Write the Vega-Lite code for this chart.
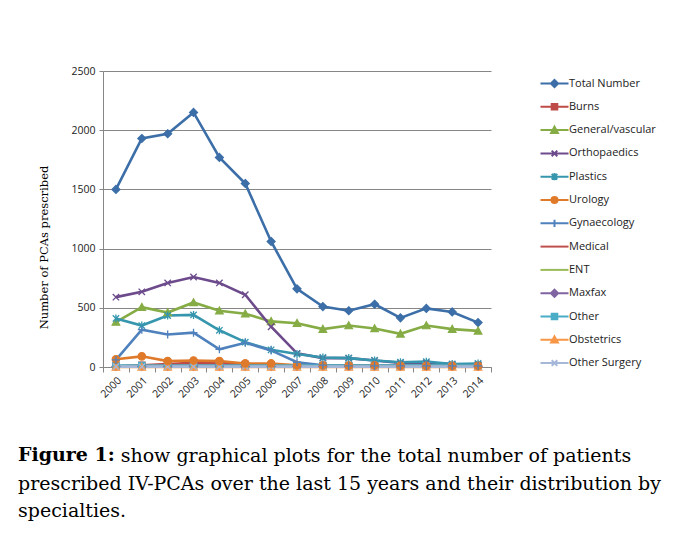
{
  "$schema": "https://vega.github.io/schema/vega-lite/v6.json",
  "autosize": {"type": "none"},
  "width": 388,
  "height": 296,
  "padding": {"left": 103, "top": 71, "right": 185, "bottom": 192},
  "background": "white",
  "config": {
    "view": {"stroke": null},
    "axis": {"labelFont": "Open Sans", "labelFontSize": 10.5, "labelColor": "#222", "domainColor": "#868686", "tickColor": "#868686", "gridColor": "#868686"}
  },
  "title": {
    "text": "Figure 1:",
    "subtitle": ["\u200b\u00a0\u00a0\u00a0\u00a0\u00a0\u00a0\u00a0\u00a0\u00a0\u00a0\u00a0\u00a0\u00a0\u00a0\u00a0\u00a0 show graphical plots for the total number of patients", "prescribed IV-PCAs over the last 15 years and their distribution by", "specialties."],
    "orient": "bottom",
    "anchor": "start",
    "frame": "bounds",
    "font": "DejaVu Serif",
    "fontSize": 19,
    "fontWeight": "bold",
    "color": "#000",
    "subtitleFont": "DejaVu Serif",
    "subtitleFontSize": 19,
    "subtitleColor": "#000",
    "subtitleLineHeight": 27.5,
    "lineHeight": 27.5,
    "subtitlePadding": -18,
    "offset": 47,
    "dx": -20
  },
  "data": {"values": [
    {"year": "2000", "series": "Total Number", "n": 1500}, {"year": "2001", "series": "Total Number", "n": 1930}, {"year": "2002", "series": "Total Number", "n": 1970}, {"year": "2003", "series": "Total Number", "n": 2150}, {"year": "2004", "series": "Total Number", "n": 1770}, {"year": "2005", "series": "Total Number", "n": 1550}, {"year": "2006", "series": "Total Number", "n": 1060}, {"year": "2007", "series": "Total Number", "n": 660}, {"year": "2008", "series": "Total Number", "n": 510}, {"year": "2009", "series": "Total Number", "n": 475}, {"year": "2010", "series": "Total Number", "n": 530}, {"year": "2011", "series": "Total Number", "n": 415}, {"year": "2012", "series": "Total Number", "n": 495}, {"year": "2013", "series": "Total Number", "n": 465}, {"year": "2014", "series": "Total Number", "n": 375},
    {"year": "2000", "series": "Burns", "n": 5}, {"year": "2001", "series": "Burns", "n": 15}, {"year": "2002", "series": "Burns", "n": 25}, {"year": "2003", "series": "Burns", "n": 35}, {"year": "2004", "series": "Burns", "n": 35}, {"year": "2005", "series": "Burns", "n": 20}, {"year": "2006", "series": "Burns", "n": 15}, {"year": "2007", "series": "Burns", "n": 10}, {"year": "2008", "series": "Burns", "n": 8}, {"year": "2009", "series": "Burns", "n": 8}, {"year": "2010", "series": "Burns", "n": 8}, {"year": "2011", "series": "Burns", "n": 8}, {"year": "2012", "series": "Burns", "n": 8}, {"year": "2013", "series": "Burns", "n": 8}, {"year": "2014", "series": "Burns", "n": 8},
    {"year": "2000", "series": "General/vascular", "n": 380}, {"year": "2001", "series": "General/vascular", "n": 505}, {"year": "2002", "series": "General/vascular", "n": 460}, {"year": "2003", "series": "General/vascular", "n": 545}, {"year": "2004", "series": "General/vascular", "n": 475}, {"year": "2005", "series": "General/vascular", "n": 450}, {"year": "2006", "series": "General/vascular", "n": 385}, {"year": "2007", "series": "General/vascular", "n": 370}, {"year": "2008", "series": "General/vascular", "n": 320}, {"year": "2009", "series": "General/vascular", "n": 350}, {"year": "2010", "series": "General/vascular", "n": 325}, {"year": "2011", "series": "General/vascular", "n": 280}, {"year": "2012", "series": "General/vascular", "n": 350}, {"year": "2013", "series": "General/vascular", "n": 320}, {"year": "2014", "series": "General/vascular", "n": 305},
    {"year": "2000", "series": "Orthopaedics", "n": 590}, {"year": "2001", "series": "Orthopaedics", "n": 635}, {"year": "2002", "series": "Orthopaedics", "n": 710}, {"year": "2003", "series": "Orthopaedics", "n": 760}, {"year": "2004", "series": "Orthopaedics", "n": 710}, {"year": "2005", "series": "Orthopaedics", "n": 610}, {"year": "2006", "series": "Orthopaedics", "n": 340}, {"year": "2007", "series": "Orthopaedics", "n": 115}, {"year": "2008", "series": "Orthopaedics", "n": 75}, {"year": "2009", "series": "Orthopaedics", "n": 75}, {"year": "2010", "series": "Orthopaedics", "n": 55}, {"year": "2011", "series": "Orthopaedics", "n": 35}, {"year": "2012", "series": "Orthopaedics", "n": 35}, {"year": "2013", "series": "Orthopaedics", "n": 25}, {"year": "2014", "series": "Orthopaedics", "n": 20},
    {"year": "2000", "series": "Plastics", "n": 410}, {"year": "2001", "series": "Plastics", "n": 350}, {"year": "2002", "series": "Plastics", "n": 435}, {"year": "2003", "series": "Plastics", "n": 440}, {"year": "2004", "series": "Plastics", "n": 310}, {"year": "2005", "series": "Plastics", "n": 210}, {"year": "2006", "series": "Plastics", "n": 145}, {"year": "2007", "series": "Plastics", "n": 110}, {"year": "2008", "series": "Plastics", "n": 80}, {"year": "2009", "series": "Plastics", "n": 75}, {"year": "2010", "series": "Plastics", "n": 55}, {"year": "2011", "series": "Plastics", "n": 40}, {"year": "2012", "series": "Plastics", "n": 45}, {"year": "2013", "series": "Plastics", "n": 25}, {"year": "2014", "series": "Plastics", "n": 30},
    {"year": "2000", "series": "Urology", "n": 65}, {"year": "2001", "series": "Urology", "n": 90}, {"year": "2002", "series": "Urology", "n": 50}, {"year": "2003", "series": "Urology", "n": 55}, {"year": "2004", "series": "Urology", "n": 50}, {"year": "2005", "series": "Urology", "n": 30}, {"year": "2006", "series": "Urology", "n": 30}, {"year": "2007", "series": "Urology", "n": 15}, {"year": "2008", "series": "Urology", "n": 15}, {"year": "2009", "series": "Urology", "n": 12}, {"year": "2010", "series": "Urology", "n": 15}, {"year": "2011", "series": "Urology", "n": 10}, {"year": "2012", "series": "Urology", "n": 10}, {"year": "2013", "series": "Urology", "n": 10}, {"year": "2014", "series": "Urology", "n": 10},
    {"year": "2000", "series": "Gynaecology", "n": 60}, {"year": "2001", "series": "Gynaecology", "n": 315}, {"year": "2002", "series": "Gynaecology", "n": 275}, {"year": "2003", "series": "Gynaecology", "n": 290}, {"year": "2004", "series": "Gynaecology", "n": 150}, {"year": "2005", "series": "Gynaecology", "n": 205}, {"year": "2006", "series": "Gynaecology", "n": 140}, {"year": "2007", "series": "Gynaecology", "n": 40}, {"year": "2008", "series": "Gynaecology", "n": 15}, {"year": "2009", "series": "Gynaecology", "n": 10}, {"year": "2010", "series": "Gynaecology", "n": 10}, {"year": "2011", "series": "Gynaecology", "n": 10}, {"year": "2012", "series": "Gynaecology", "n": 10}, {"year": "2013", "series": "Gynaecology", "n": 10}, {"year": "2014", "series": "Gynaecology", "n": 10},
    {"year": "2000", "series": "Medical", "n": 5}, {"year": "2001", "series": "Medical", "n": 8}, {"year": "2002", "series": "Medical", "n": 10}, {"year": "2003", "series": "Medical", "n": 12}, {"year": "2004", "series": "Medical", "n": 12}, {"year": "2005", "series": "Medical", "n": 10}, {"year": "2006", "series": "Medical", "n": 8}, {"year": "2007", "series": "Medical", "n": 5}, {"year": "2008", "series": "Medical", "n": 5}, {"year": "2009", "series": "Medical", "n": 5}, {"year": "2010", "series": "Medical", "n": 5}, {"year": "2011", "series": "Medical", "n": 5}, {"year": "2012", "series": "Medical", "n": 5}, {"year": "2013", "series": "Medical", "n": 5}, {"year": "2014", "series": "Medical", "n": 5},
    {"year": "2000", "series": "ENT", "n": 3}, {"year": "2001", "series": "ENT", "n": 3}, {"year": "2002", "series": "ENT", "n": 3}, {"year": "2003", "series": "ENT", "n": 3}, {"year": "2004", "series": "ENT", "n": 3}, {"year": "2005", "series": "ENT", "n": 3}, {"year": "2006", "series": "ENT", "n": 3}, {"year": "2007", "series": "ENT", "n": 3}, {"year": "2008", "series": "ENT", "n": 3}, {"year": "2009", "series": "ENT", "n": 3}, {"year": "2010", "series": "ENT", "n": 3}, {"year": "2011", "series": "ENT", "n": 3}, {"year": "2012", "series": "ENT", "n": 3}, {"year": "2013", "series": "ENT", "n": 3}, {"year": "2014", "series": "ENT", "n": 3},
    {"year": "2000", "series": "Maxfax", "n": 5}, {"year": "2001", "series": "Maxfax", "n": 5}, {"year": "2002", "series": "Maxfax", "n": 5}, {"year": "2003", "series": "Maxfax", "n": 5}, {"year": "2004", "series": "Maxfax", "n": 5}, {"year": "2005", "series": "Maxfax", "n": 5}, {"year": "2006", "series": "Maxfax", "n": 5}, {"year": "2007", "series": "Maxfax", "n": 5}, {"year": "2008", "series": "Maxfax", "n": 5}, {"year": "2009", "series": "Maxfax", "n": 5}, {"year": "2010", "series": "Maxfax", "n": 5}, {"year": "2011", "series": "Maxfax", "n": 5}, {"year": "2012", "series": "Maxfax", "n": 5}, {"year": "2013", "series": "Maxfax", "n": 5}, {"year": "2014", "series": "Maxfax", "n": 5},
    {"year": "2000", "series": "Other", "n": 12}, {"year": "2001", "series": "Other", "n": 12}, {"year": "2002", "series": "Other", "n": 12}, {"year": "2003", "series": "Other", "n": 12}, {"year": "2004", "series": "Other", "n": 12}, {"year": "2005", "series": "Other", "n": 12}, {"year": "2006", "series": "Other", "n": 12}, {"year": "2007", "series": "Other", "n": 12}, {"year": "2008", "series": "Other", "n": 12}, {"year": "2009", "series": "Other", "n": 12}, {"year": "2010", "series": "Other", "n": 12}, {"year": "2011", "series": "Other", "n": 12}, {"year": "2012", "series": "Other", "n": 12}, {"year": "2013", "series": "Other", "n": 12}, {"year": "2014", "series": "Other", "n": 12},
    {"year": "2000", "series": "Obstetrics", "n": 0}, {"year": "2001", "series": "Obstetrics", "n": 0}, {"year": "2002", "series": "Obstetrics", "n": 0}, {"year": "2003", "series": "Obstetrics", "n": 0}, {"year": "2004", "series": "Obstetrics", "n": 0}, {"year": "2005", "series": "Obstetrics", "n": 0}, {"year": "2006", "series": "Obstetrics", "n": 0}, {"year": "2007", "series": "Obstetrics", "n": 0}, {"year": "2008", "series": "Obstetrics", "n": 0}, {"year": "2009", "series": "Obstetrics", "n": 0}, {"year": "2010", "series": "Obstetrics", "n": 0}, {"year": "2011", "series": "Obstetrics", "n": 0}, {"year": "2012", "series": "Obstetrics", "n": 0}, {"year": "2013", "series": "Obstetrics", "n": 0}, {"year": "2014", "series": "Obstetrics", "n": 0},
    {"year": "2000", "series": "Other Surgery", "n": 3}, {"year": "2001", "series": "Other Surgery", "n": 3}, {"year": "2002", "series": "Other Surgery", "n": 3}, {"year": "2003", "series": "Other Surgery", "n": 3}, {"year": "2004", "series": "Other Surgery", "n": 3}, {"year": "2005", "series": "Other Surgery", "n": 3}, {"year": "2006", "series": "Other Surgery", "n": 3}, {"year": "2007", "series": "Other Surgery", "n": 3}, {"year": "2008", "series": "Other Surgery", "n": 3}, {"year": "2009", "series": "Other Surgery", "n": 3}, {"year": "2010", "series": "Other Surgery", "n": 3}, {"year": "2011", "series": "Other Surgery", "n": 3}, {"year": "2012", "series": "Other Surgery", "n": 3}, {"year": "2013", "series": "Other Surgery", "n": 3}, {"year": "2014", "series": "Other Surgery", "n": 3}
  ]},
  "encoding": {
    "x": {"field": "year", "type": "ordinal", "scale": {"type": "band", "paddingInner": 0, "paddingOuter": 0},
      "axis": {"title": null, "labelAngle": -45, "tickBand": "extent", "tickSize": 5, "labelPadding": 3, "grid": false}},
    "y": {"field": "n", "type": "quantitative", "scale": {"domain": [0, 2500], "nice": false},
      "axis": {"title": "Number of PCAs prescribed", "values": [0, 500, 1000, 1500, 2000, 2500], "format": "d", "grid": true, "tickSize": 4, "labelPadding": 4,
        "titleFont": "DejaVu Serif", "titleFontSize": 11.5, "titleFontWeight": "normal", "titleColor": "#000", "titleX": -54, "titleY": 176, "titleAngle": -90, "titleBaseline": "bottom"}}
  },
  "layer": [
    {
      "mark": {"type": "line", "strokeWidth": 2.6},
      "encoding": {
        "color": {"field": "series", "type": "nominal", "sort": null,
          "scale": {"domain": ["Total Number", "Burns", "General/vascular", "Orthopaedics", "Plastics", "Urology", "Gynaecology", "Medical", "ENT", "Maxfax", "Other", "Obstetrics", "Other Surgery"],
            "range": ["#3C6EA8", "#BE4B48", "#86AC45", "#6C4A8B", "#3596AE", "#E07A2B", "#4F81BD", "#C0504D", "#9BBB59", "#8064A2", "#4BACC6", "#F79646", "#A5B8D9"]},
          "legend": {
            "title": null, "orient": "none", "legendX": 446, "legendY": 7,
            "labelFont": "Open Sans", "labelFontSize": 11, "labelColor": "#222",
            "symbolSize": 64, "symbolStrokeWidth": 2, "labelOffset": 9, "rowPadding": 6.3, "padding": 0
          }}
      }
    },
    {
      "transform": [{"filter": {"field": "series", "oneOf": ["Total Number", "Maxfax"]}}],
      "mark": {"type": "point", "shape": "M0,-1L1,0L0,1L-1,0Z", "filled": true, "size": 64, "strokeWidth": 1.2, "opacity": 1},
      "encoding": {
        "fill": {"field": "series", "type": "nominal", "sort": null, "legend": null, "scale": {"domain": ["Total Number", "Burns", "General/vascular", "Orthopaedics", "Plastics", "Urology", "Gynaecology", "Medical", "ENT", "Maxfax", "Other", "Obstetrics", "Other Surgery"], "range": ["#3C6EA8", "#BE4B48", "#86AC45", "#6C4A8B", "#3596AE", "#E07A2B", "#4F81BD", "#C0504D", "#9BBB59", "#8064A2", "#4BACC6", "#F79646", "#A5B8D9"]}},
        "stroke": {"field": "series", "type": "nominal", "sort": null, "legend": null, "scale": {"domain": ["Total Number", "Burns", "General/vascular", "Orthopaedics", "Plastics", "Urology", "Gynaecology", "Medical", "ENT", "Maxfax", "Other", "Obstetrics", "Other Surgery"], "range": ["#3C6EA8", "#BE4B48", "#86AC45", "#6C4A8B", "#3596AE", "#E07A2B", "#4F81BD", "#C0504D", "#9BBB59", "#8064A2", "#4BACC6", "#F79646", "#A5B8D9"]}}
      }
    },
    {
      "transform": [{"filter": {"field": "series", "oneOf": ["Burns", "Other"]}}],
      "mark": {"type": "point", "shape": "M-0.8,-0.8H0.8V0.8H-0.8Z", "filled": true, "size": 64, "strokeWidth": 1.2, "opacity": 1},
      "encoding": {
        "fill": {"field": "series", "type": "nominal", "sort": null, "legend": null, "scale": {"domain": ["Total Number", "Burns", "General/vascular", "Orthopaedics", "Plastics", "Urology", "Gynaecology", "Medical", "ENT", "Maxfax", "Other", "Obstetrics", "Other Surgery"], "range": ["#3C6EA8", "#BE4B48", "#86AC45", "#6C4A8B", "#3596AE", "#E07A2B", "#4F81BD", "#C0504D", "#9BBB59", "#8064A2", "#4BACC6", "#F79646", "#A5B8D9"]}},
        "stroke": {"field": "series", "type": "nominal", "sort": null, "legend": null, "scale": {"domain": ["Total Number", "Burns", "General/vascular", "Orthopaedics", "Plastics", "Urology", "Gynaecology", "Medical", "ENT", "Maxfax", "Other", "Obstetrics", "Other Surgery"], "range": ["#3C6EA8", "#BE4B48", "#86AC45", "#6C4A8B", "#3596AE", "#E07A2B", "#4F81BD", "#C0504D", "#9BBB59", "#8064A2", "#4BACC6", "#F79646", "#A5B8D9"]}}
      }
    },
    {
      "transform": [{"filter": {"field": "series", "oneOf": ["General/vascular", "Obstetrics"]}}],
      "mark": {"type": "point", "shape": "M0,-0.95L0.95,0.8H-0.95Z", "filled": true, "size": 64, "strokeWidth": 1.2, "opacity": 1},
      "encoding": {
        "fill": {"field": "series", "type": "nominal", "sort": null, "legend": null, "scale": {"domain": ["Total Number", "Burns", "General/vascular", "Orthopaedics", "Plastics", "Urology", "Gynaecology", "Medical", "ENT", "Maxfax", "Other", "Obstetrics", "Other Surgery"], "range": ["#3C6EA8", "#BE4B48", "#86AC45", "#6C4A8B", "#3596AE", "#E07A2B", "#4F81BD", "#C0504D", "#9BBB59", "#8064A2", "#4BACC6", "#F79646", "#A5B8D9"]}},
        "stroke": {"field": "series", "type": "nominal", "sort": null, "legend": null, "scale": {"domain": ["Total Number", "Burns", "General/vascular", "Orthopaedics", "Plastics", "Urology", "Gynaecology", "Medical", "ENT", "Maxfax", "Other", "Obstetrics", "Other Surgery"], "range": ["#3C6EA8", "#BE4B48", "#86AC45", "#6C4A8B", "#3596AE", "#E07A2B", "#4F81BD", "#C0504D", "#9BBB59", "#8064A2", "#4BACC6", "#F79646", "#A5B8D9"]}}
      }
    },
    {
      "transform": [{"filter": {"field": "series", "oneOf": ["Orthopaedics", "Other Surgery"]}}],
      "mark": {"type": "point", "shape": "M-0.8,-0.8L0.8,0.8M0.8,-0.8L-0.8,0.8", "filled": true, "size": 64, "strokeWidth": 1.3, "opacity": 1},
      "encoding": {
        "fill": {"field": "series", "type": "nominal", "sort": null, "legend": null, "scale": {"domain": ["Total Number", "Burns", "General/vascular", "Orthopaedics", "Plastics", "Urology", "Gynaecology", "Medical", "ENT", "Maxfax", "Other", "Obstetrics", "Other Surgery"], "range": ["#3C6EA8", "#BE4B48", "#86AC45", "#6C4A8B", "#3596AE", "#E07A2B", "#4F81BD", "#C0504D", "#9BBB59", "#8064A2", "#4BACC6", "#F79646", "#A5B8D9"]}},
        "stroke": {"field": "series", "type": "nominal", "sort": null, "legend": null, "scale": {"domain": ["Total Number", "Burns", "General/vascular", "Orthopaedics", "Plastics", "Urology", "Gynaecology", "Medical", "ENT", "Maxfax", "Other", "Obstetrics", "Other Surgery"], "range": ["#3C6EA8", "#BE4B48", "#86AC45", "#6C4A8B", "#3596AE", "#E07A2B", "#4F81BD", "#C0504D", "#9BBB59", "#8064A2", "#4BACC6", "#F79646", "#A5B8D9"]}}
      }
    },
    {
      "transform": [{"filter": {"field": "series", "equal": "Plastics"}}],
      "mark": {"type": "point", "shape": "M-0.8,-0.8L0.8,0.8M0.8,-0.8L-0.8,0.8M0,-1V1", "filled": true, "size": 64, "strokeWidth": 1.3, "opacity": 1},
      "encoding": {
        "fill": {"field": "series", "type": "nominal", "sort": null, "legend": null, "scale": {"domain": ["Total Number", "Burns", "General/vascular", "Orthopaedics", "Plastics", "Urology", "Gynaecology", "Medical", "ENT", "Maxfax", "Other", "Obstetrics", "Other Surgery"], "range": ["#3C6EA8", "#BE4B48", "#86AC45", "#6C4A8B", "#3596AE", "#E07A2B", "#4F81BD", "#C0504D", "#9BBB59", "#8064A2", "#4BACC6", "#F79646", "#A5B8D9"]}},
        "stroke": {"field": "series", "type": "nominal", "sort": null, "legend": null, "scale": {"domain": ["Total Number", "Burns", "General/vascular", "Orthopaedics", "Plastics", "Urology", "Gynaecology", "Medical", "ENT", "Maxfax", "Other", "Obstetrics", "Other Surgery"], "range": ["#3C6EA8", "#BE4B48", "#86AC45", "#6C4A8B", "#3596AE", "#E07A2B", "#4F81BD", "#C0504D", "#9BBB59", "#8064A2", "#4BACC6", "#F79646", "#A5B8D9"]}}
      }
    },
    {
      "transform": [{"filter": {"field": "series", "equal": "Urology"}}],
      "mark": {"type": "point", "shape": "circle", "filled": true, "size": 56, "strokeWidth": 1.2, "opacity": 1},
      "encoding": {
        "fill": {"field": "series", "type": "nominal", "sort": null, "legend": null, "scale": {"domain": ["Total Number", "Burns", "General/vascular", "Orthopaedics", "Plastics", "Urology", "Gynaecology", "Medical", "ENT", "Maxfax", "Other", "Obstetrics", "Other Surgery"], "range": ["#3C6EA8", "#BE4B48", "#86AC45", "#6C4A8B", "#3596AE", "#E07A2B", "#4F81BD", "#C0504D", "#9BBB59", "#8064A2", "#4BACC6", "#F79646", "#A5B8D9"]}},
        "stroke": {"field": "series", "type": "nominal", "sort": null, "legend": null, "scale": {"domain": ["Total Number", "Burns", "General/vascular", "Orthopaedics", "Plastics", "Urology", "Gynaecology", "Medical", "ENT", "Maxfax", "Other", "Obstetrics", "Other Surgery"], "range": ["#3C6EA8", "#BE4B48", "#86AC45", "#6C4A8B", "#3596AE", "#E07A2B", "#4F81BD", "#C0504D", "#9BBB59", "#8064A2", "#4BACC6", "#F79646", "#A5B8D9"]}}
      }
    },
    {
      "transform": [{"filter": {"field": "series", "equal": "Gynaecology"}}],
      "mark": {"type": "point", "shape": "M-1,0H1M0,-1V1", "filled": true, "size": 64, "strokeWidth": 1.3, "opacity": 1},
      "encoding": {
        "fill": {"field": "series", "type": "nominal", "sort": null, "legend": null, "scale": {"domain": ["Total Number", "Burns", "General/vascular", "Orthopaedics", "Plastics", "Urology", "Gynaecology", "Medical", "ENT", "Maxfax", "Other", "Obstetrics", "Other Surgery"], "range": ["#3C6EA8", "#BE4B48", "#86AC45", "#6C4A8B", "#3596AE", "#E07A2B", "#4F81BD", "#C0504D", "#9BBB59", "#8064A2", "#4BACC6", "#F79646", "#A5B8D9"]}},
        "stroke": {"field": "series", "type": "nominal", "sort": null, "legend": null, "scale": {"domain": ["Total Number", "Burns", "General/vascular", "Orthopaedics", "Plastics", "Urology", "Gynaecology", "Medical", "ENT", "Maxfax", "Other", "Obstetrics", "Other Surgery"], "range": ["#3C6EA8", "#BE4B48", "#86AC45", "#6C4A8B", "#3596AE", "#E07A2B", "#4F81BD", "#C0504D", "#9BBB59", "#8064A2", "#4BACC6", "#F79646", "#A5B8D9"]}}
      }
    },
    {
      "transform": [{"filter": "datum.n < 0"}],
      "mark": {"type": "point", "filled": true, "size": 64, "strokeWidth": 2, "opacity": 1},
      "encoding": {
        "fill": {"field": "series", "type": "nominal", "sort": null, "legend": null, "scale": {"domain": ["Total Number", "Burns", "General/vascular", "Orthopaedics", "Plastics", "Urology", "Gynaecology", "Medical", "ENT", "Maxfax", "Other", "Obstetrics", "Other Surgery"], "range": ["#3C6EA8", "#BE4B48", "#86AC45", "#6C4A8B", "#3596AE", "#E07A2B", "#4F81BD", "#C0504D", "#9BBB59", "#8064A2", "#4BACC6", "#F79646", "#A5B8D9"]}},
        "stroke": {"field": "series", "type": "nominal", "sort": null, "legend": null, "scale": {"domain": ["Total Number", "Burns", "General/vascular", "Orthopaedics", "Plastics", "Urology", "Gynaecology", "Medical", "ENT", "Maxfax", "Other", "Obstetrics", "Other Surgery"], "range": ["#3C6EA8", "#BE4B48", "#86AC45", "#6C4A8B", "#3596AE", "#E07A2B", "#4F81BD", "#C0504D", "#9BBB59", "#8064A2", "#4BACC6", "#F79646", "#A5B8D9"]}},
        "shape": {"field": "series", "type": "nominal", "sort": null, "legend": null,
          "scale": {"domain": ["Total Number", "Burns", "General/vascular", "Orthopaedics", "Plastics", "Urology", "Gynaecology", "Medical", "ENT", "Maxfax", "Other", "Obstetrics", "Other Surgery"],
            "range": ["M0,-1.1M0,1.1M-3.5,0H3.5M0,-0.9L0.9,0L0,0.9L-0.9,0Z", "M0,-1.1M0,1.1M-3.5,0H3.5M-0.7,-0.7H0.7V0.7H-0.7Z", "M0,-1.1M0,1.1M-3.5,0H3.5M0,-0.85L0.85,0.7H-0.85Z", "M0,-1.1M0,1.1M-3.5,0H3.5M-0.7,-0.7L0.7,0.7M0.7,-0.7L-0.7,0.7", "M0,-1.1M0,1.1M-3.5,0H3.5M-0.7,-0.7L0.7,0.7M0.7,-0.7L-0.7,0.7M0,-0.9V0.9", "M0,-1.1M0,1.1M-3.5,0H3.5M0.75,0A0.75,0.75 0 1,1 -0.75,0A0.75,0.75 0 1,1 0.75,0Z", "M0,-1.1M0,1.1M-3.5,0H3.5M0,-0.9V0.9", "M0,-1.1M0,1.1M-3.5,0H3.5", "M0,-1.1M0,1.1M-3.5,0H3.5", "M0,-1.1M0,1.1M-3.5,0H3.5M0,-0.9L0.9,0L0,0.9L-0.9,0Z", "M0,-1.1M0,1.1M-3.5,0H3.5M-0.7,-0.7H0.7V0.7H-0.7Z", "M0,-1.1M0,1.1M-3.5,0H3.5M0,-0.85L0.85,0.7H-0.85Z", "M0,-1.1M0,1.1M-3.5,0H3.5M-0.7,-0.7L0.7,0.7M0.7,-0.7L-0.7,0.7"]}}
      }
    }
  ]
}
